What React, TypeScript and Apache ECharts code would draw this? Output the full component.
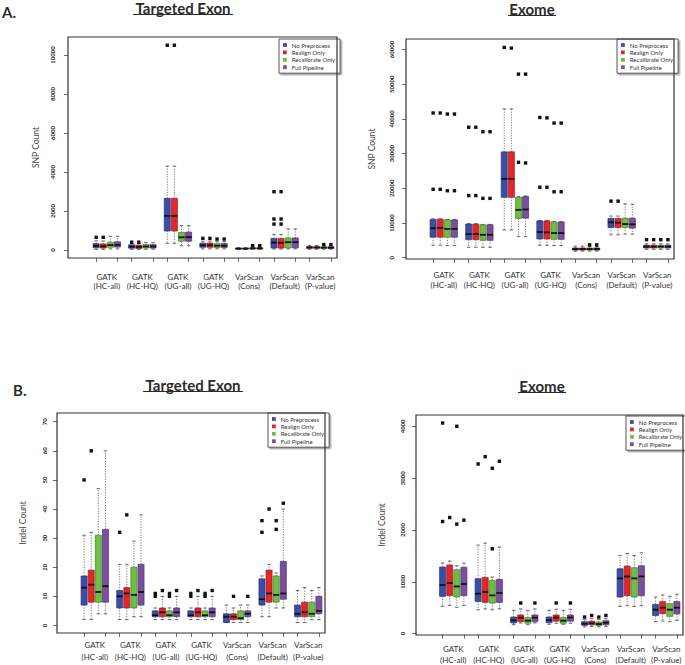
import { useEffect, useRef } from "react";
import * as echarts from "echarts";

// ---------- data ----------
const groups = [
  "GATK\n(HC-all)",
  "GATK\n(HC-HQ)",
  "GATK\n(UG-all)",
  "GATK\n(UG-HQ)",
  "VarScan\n(Cons)",
  "VarScan\n(Default)",
  "VarScan\n(P-value)",
];
const pipelines = ["No Preprocess", "Realign Only", "Recalibrate Only", "Full Pipeline"];

// each row: [min, Q1, median, Q3, max] per group
const snpTargetedNoPre = [[30,110,210,330,470],[30,90,170,270,340],[340,975,1750,2650,4300],[60,140,240,350,450],[30,50,70,90,120],[50,100,380,590,800],[40,90,130,170,230]];
const snpTargetedRealign = [[30,100,190,310,460],[30,80,160,250,330],[340,975,1750,2650,4300],[60,140,240,360,460],[30,50,70,90,120],[50,100,370,590,800],[40,90,130,170,230]];
const snpTargetedRecal = [[60,140,250,400,700],[40,100,180,280,380],[220,450,650,900,1250],[60,130,220,330,430],[40,60,85,110,160],[60,110,400,620,1080],[40,80,120,170,230]];
const snpTargetedFull = [[60,150,260,420,700],[40,100,180,280,380],[220,450,660,920,1250],[60,130,220,330,430],[40,60,85,110,160],[60,110,400,620,1080],[40,80,120,170,230]];
// outliers: [group, pipeline, value]
const snpTargetedOutliers = [[0,0,650],[0,1,650],[1,0,400],[1,1,400],[2,0,10500],[2,1,10500],[3,0,600],[3,1,600],[3,2,560],[3,3,560],[4,2,220],[4,3,220],[5,0,1330],[5,0,1590],[5,0,2990],[5,1,1330],[5,1,1590],[5,1,2990],[6,2,280],[6,3,280]];

const snpExomeNoPre = [[3600,5900,8500,11000,11200],[3000,5200,6800,9700,9800],[8000,17400,22700,30500,42900],[3600,5400,7400,10600,10700],[1900,2200,2500,2800,3300],[6600,8700,10200,11300,12000],[2400,2800,3200,3600,4000]];
const snpExomeRealign = [[3600,5900,8600,11100,11200],[3000,5200,6800,9700,9800],[8000,17400,22700,30500,42900],[3600,5400,7300,10600,10700],[1900,2200,2500,2800,3300],[6600,8700,10100,11300,12000],[2400,2800,3200,3600,4000]];
const snpExomeRecal = [[3500,5900,8300,10900,11000],[3000,5000,6600,9500,9600],[6100,11300,13800,17400,17600],[3500,5300,7100,10300,10400],[1900,2200,2500,2800,3200],[6800,8700,9700,11400,15500],[2400,2800,3200,3600,4000]];
const snpExomeFull = [[3500,5900,8300,10900,11000],[3000,5000,6600,9500,9600],[6100,11400,13900,17600,17800],[3500,5300,7100,10300,10400],[1900,2200,2500,2800,3200],[6800,8500,9600,11400,15400],[2400,2800,3200,3600,4000]];
const snpExomeOutliers = [[0,0,19700],[0,0,41700],[0,1,19700],[0,1,41700],[0,2,19300],[0,2,41400],[0,3,19300],[0,3,41400],[1,0,17900],[1,0,37600],[1,1,17900],[1,1,37600],[1,2,17100],[1,2,36300],[1,3,17100],[1,3,36300],[2,0,60600],[2,1,60400],[2,2,27500],[2,2,52900],[2,3,27300],[2,3,52900],[3,0,20300],[3,0,40400],[3,1,20300],[3,1,40300],[3,2,19000],[3,2,38800],[3,3,19000],[3,3,38800],[4,2,3700],[4,3,3700],[5,0,16300],[5,1,16300],[6,0,5200],[6,1,5200],[6,2,5200],[6,3,5200]];

const indelTargetedNoPre = [[2,7,13,17,31],[2,6,10,12,21],[2,3,3.5,5,6],[2,3,3.5,5,6],[1,1,3,4,7],[3,7,9,16,17],[1,3,4,7,12]];
const indelTargetedRealign = [[2,8,14,19,32],[2,6,11,13,21],[2,3,4.5,6,10],[2,3,4.5,6,10],[1,2,3,4,6],[3,8,11,19,21],[1,3,4.5,8,13]];
const indelTargetedRecal = [[4,8,11.5,31,47],[3,6,10.5,20,29],[2,3,3.5,5,6],[2,3,3.5,5,6],[1,2,2.5,5,7],[6,8,10.5,17,18],[2,3,4,8,12]];
const indelTargetedFull = [[4,8,13.5,33,60],[3,7,11.5,21,38],[2,3,4.5,6,10],[2,3,4.5,6,10],[1,3,4,5,7],[6,9,11,22,40],[2,4,5,10,13]];
const indelTargetedOutliers = [[0,0,50],[0,1,60],[1,0,32],[1,1,38],[2,0,10],[2,0,11],[2,1,12],[2,2,10],[2,2,11],[2,3,12],[3,0,10],[3,0,11],[3,1,12],[3,2,10],[3,2,11],[3,3,12],[4,1,10],[4,3,10],[5,0,32],[5,0,36],[5,1,40],[5,2,33],[5,2,36],[5,3,42]];

const indelExomeNoPre = [[526,719,938,1285,1362],[460,620,771,1060,1709],[173,206,257,321,449],[180,210,260,320,450],[130,160,190,230,270],[526,707,1066,1252,1509],[231,347,462,565,707]];
const indelExomeRealign = [[545,732,977,1324,1400],[476,603,803,1085,1747],[206,231,308,360,476],[200,240,310,360,470],[140,170,200,240,290],[539,732,1104,1304,1547],[244,385,501,617,746]];
const indelExomeRecal = [[507,707,911,1233,1310],[460,591,738,1027,1092],[173,200,250,310,449],[180,200,250,310,450],[130,155,185,225,270],[526,707,1066,1272,1509],[231,334,462,578,720]];
const indelExomeFull = [[545,732,958,1280,1362],[476,603,784,1047,1670],[206,231,308,360,476],[200,240,310,360,470],[140,170,210,250,290],[539,732,1104,1310,1560],[257,380,501,618,760]];
const indelExomeOutliers = [[0,0,2164],[0,0,4065],[0,1,2241],[0,2,2113],[0,2,4002],[0,3,2190],[1,0,3275],[1,1,3416],[1,2,1638],[1,2,3192],[1,3,3327],[2,1,591],[2,3,591],[3,1,591],[3,3,591],[4,0,320],[4,1,350],[4,2,320],[4,3,350]];

const snpTargetedTicks = [0, 2000, 4000, 6000, 8000, 10000];
const snpExomeTicks = [0, 10000, 20000, 30000, 40000, 50000, 60000];
const indelTargetedTicks = [0, 10, 20, 30, 40, 50, 60, 70];
const indelExomeTicks = [0, 1000, 2000, 3000, 4000];

// ---------- styling / layout ----------
const colors = ["#3c4da6", "#e3262b", "#6dbf43", "#7a4fa0"];
const borders = ["#2a3575", "#9a1a1d", "#447f2a", "#4f3170"];
const FONT = "Lato, 'Open Sans', sans-serif";

const panels = [
  { title: "Targeted Exon", yName: "SNP Count", boxes: [snpTargetedNoPre, snpTargetedRealign, snpTargetedRecal, snpTargetedFull], outliers: snpTargetedOutliers, ticks: snpTargetedTicks,
    frame: [68, 37, 269, 221], catLeft: 89, catW: 249, min: -410, max: 10923, labMargin: 14, lh: 9.5, yLabMargin: 13, nameGap: 28,
    legend: [279, 39], titleXY: [183, 8], ul: [133, 233, 14.5] },
  { title: "Exome", yName: "SNP Count", boxes: [snpExomeNoPre, snpExomeRealign, snpExomeRecal, snpExomeFull], outliers: snpExomeOutliers, ticks: snpExomeTicks,
    frame: [406, 39, 268, 220], catLeft: 426, catW: 249, min: -375, max: 63026, labMargin: 11, lh: 10, yLabMargin: 12, nameGap: 30,
    legend: [617, 39], titleXY: [532, 9], ul: [508, 556, 15.5] },
  { title: "Targeted Exon", yName: "Indel Count", boxes: [indelTargetedNoPre, indelTargetedRealign, indelTargetedRecal, indelTargetedFull], outliers: indelTargetedOutliers, ticks: indelTargetedTicks,
    frame: [57, 413, 268, 220], catLeft: 77, catW: 249, min: -2.6, max: 73, labMargin: 6.5, lh: 11.5, yLabMargin: 10, nameGap: 30,
    legend: [268, 413], titleXY: [193, 385], ul: [143, 243, 391.5] },
  { title: "Exome", yName: "Indel Count", boxes: [indelExomeNoPre, indelExomeRealign, indelExomeRecal, indelExomeFull], outliers: indelExomeOutliers, ticks: indelExomeTicks,
    frame: [416, 415, 267, 220], catLeft: 435.5, catW: 248.5, min: -19, max: 4220, labMargin: 9, lh: 10.7, yLabMargin: 11, nameGap: 30,
    legend: [626, 416], titleXY: [542, 386], ul: [518, 566, 392.5] },
];

const boxTickValues: number[] = [];
const groupCenters: number[] = [];
groups.forEach((_, i) => { boxTickValues.push(i + 0.2, i + 0.8); groupCenters.push(i + 0.5); });

function boxRender(si: number) {
  return (_params: any, api: any) => {
    const g = api.value(0) + 0.5;
    const band = api.size([1, 0])[0];
    const xc = api.coord([g, 0])[0] + (si - 1.5) * band * 0.2;
    const half = band * 0.085;
    const cap = band * 0.05;
    const y = (v: number) => api.coord([g, v])[1];
    const yMin = y(api.value(1));
    const yQ1 = y(api.value(2));
    const yMed = y(api.value(3));
    const yQ3 = y(api.value(4));
    const yMax = y(api.value(5));
    const dash = { stroke: "#555", lineWidth: 0.8, lineDash: [1.2, 1.4] };
    const solid = { stroke: "#444", lineWidth: 0.8 };
    return {
      type: "group",
      children: [
        { type: "line", shape: { x1: xc, y1: yQ3, x2: xc, y2: yMax }, style: dash },
        { type: "line", shape: { x1: xc, y1: yQ1, x2: xc, y2: yMin }, style: dash },
        { type: "line", shape: { x1: xc - cap, y1: yMax, x2: xc + cap, y2: yMax }, style: solid },
        { type: "line", shape: { x1: xc - cap, y1: yMin, x2: xc + cap, y2: yMin }, style: solid },
        { type: "rect", shape: { x: xc - half, y: yQ3, width: half * 2, height: Math.max(yQ1 - yQ3, 0.5) }, style: { fill: colors[si], stroke: borders[si], lineWidth: 0.7 } },
        { type: "line", shape: { x1: xc - half, y1: yMed, x2: xc + half, y2: yMed }, style: { stroke: "#111", lineWidth: 1.8 } },
      ],
    };
  };
}

function outlierRender(_params: any, api: any) {
  const g = api.value(0) + 0.5;
  const si = api.value(1);
  const band = api.size([1, 0])[0];
  const xc = api.coord([g, 0])[0] + (si - 1.5) * band * 0.2;
  const yv = api.coord([g, api.value(2)])[1];
  const s = 3.4;
  return { type: "rect", shape: { x: xc - s / 2, y: yv - s / 2, width: s, height: s }, style: { fill: "#111" } };
}

function buildOption() {
  const grid: any[] = [];
  const xAxis: any[] = [];
  const yAxis: any[] = [];
  const series: any[] = [];
  const legend: any[] = [];
  const graphic: any[] = [];

  panels.forEach((p, i) => {
    const band = p.catW / groups.length;
    const xMin = (p.frame[0] - p.catLeft) / band;
    const xMax = (p.frame[0] + p.frame[2] - p.catLeft) / band;
    grid.push({ left: p.frame[0], top: p.frame[1], width: p.frame[2], height: p.frame[3] });
    xAxis.push({
      type: "value", gridIndex: i, min: xMin, max: xMax, position: "bottom",
      axisLine: { show: false, onZero: false }, splitLine: { show: false },
      axisTick: { show: true, customValues: boxTickValues, length: 4, lineStyle: { color: "#444", width: 0.8 } },
      axisLabel: {
        customValues: groupCenters,
        formatter: (v: number) => groups[Math.round(v - 0.5)] ?? "",
        fontSize: 8, lineHeight: p.lh, margin: p.labMargin, color: "#333", fontFamily: FONT,
      },
    });
    yAxis.push({
      type: "value", gridIndex: i, min: p.min, max: p.max, position: "left",
      axisLine: { show: false, onZero: false }, splitLine: { show: false },
      axisTick: { show: true, customValues: p.ticks, length: 4, lineStyle: { color: "#444", width: 0.8 } },
      axisLabel: {
        customValues: p.ticks, formatter: (v: number) => String(v),
        rotate: 90, fontSize: 6, fontWeight: "bold", color: "#222", margin: p.yLabMargin, fontFamily: FONT,
      },
      name: p.yName, nameLocation: "middle", nameGap: p.nameGap,
      nameTextStyle: { fontSize: 8.5, color: "#444", fontFamily: FONT },
    });
    p.boxes.forEach((arr, si) => {
      series.push({
        type: "custom", name: pipelines[si], xAxisIndex: i, yAxisIndex: i,
        itemStyle: { color: colors[si] },
        encode: { x: 0, y: [1, 2, 3, 4, 5] },
        data: arr.map((r, g) => [g, ...r]),
        renderItem: boxRender(si),
      });
    });
    series.push({
      type: "custom", name: "outliers", xAxisIndex: i, yAxisIndex: i,
      itemStyle: { color: "#111" },
      encode: { x: 0, y: 2 },
      data: p.outliers,
      renderItem: outlierRender,
    });
    legend.push({
      data: pipelines, orient: "vertical", left: p.legend[0], top: p.legend[1],
      icon: "rect", itemWidth: 3.8, itemHeight: 3.8, itemGap: 1.4, padding: [3, 5, 3, 4],
      textStyle: { fontSize: 6, color: "#333", fontFamily: FONT },
      borderColor: "#555", borderWidth: 1, backgroundColor: "#fff",
      shadowColor: "rgba(0,0,0,0.35)", shadowOffsetX: 1.5, shadowOffsetY: 1.5, shadowBlur: 0,
      selectedMode: false,
    });
    graphic.push({
      type: "rect", shape: { x: p.frame[0], y: p.frame[1], width: p.frame[2], height: p.frame[3] },
      style: { fill: "none", stroke: "#333", lineWidth: 1.2 }, silent: true, z: 10,
    });
    graphic.push({
      type: "text", x: p.titleXY[0], y: p.titleXY[1],
      style: { text: p.title, fontSize: 15, fontWeight: "bold", fill: "#2b2b2b", fontFamily: FONT, align: "center", verticalAlign: "middle" },
    });
    graphic.push({
      type: "line", shape: { x1: p.ul[0], y1: p.ul[2], x2: p.ul[1], y2: p.ul[2] },
      style: { stroke: "#2b2b2b", lineWidth: 1.2 },
    });
  });

  graphic.push({ type: "text", x: 2, y: 12, style: { text: "A.", fontSize: 15, fontWeight: "bold", fill: "#2b2b2b", fontFamily: FONT, verticalAlign: "middle" } });
  graphic.push({ type: "text", x: 13, y: 390, style: { text: "B.", fontSize: 15, fontWeight: "bold", fill: "#2b2b2b", fontFamily: FONT, verticalAlign: "middle" } });

  return {
    animation: false,
    backgroundColor: "#fff",
    textStyle: { fontFamily: FONT },
    grid, xAxis, yAxis, series, legend, graphic,
  };
}

export default function App() {
  const ref = useRef<HTMLDivElement>(null);
  useEffect(() => {
    document.body.style.margin = "0";
    const chart = echarts.init(ref.current!, null, { renderer: "svg" });
    chart.setOption(buildOption() as any);
    return () => chart.dispose();
  }, []);
  return <div ref={ref} style={{ position: "absolute", left: 0, top: 0, width: 685, height: 665, background: "#fff" }} />;
}
